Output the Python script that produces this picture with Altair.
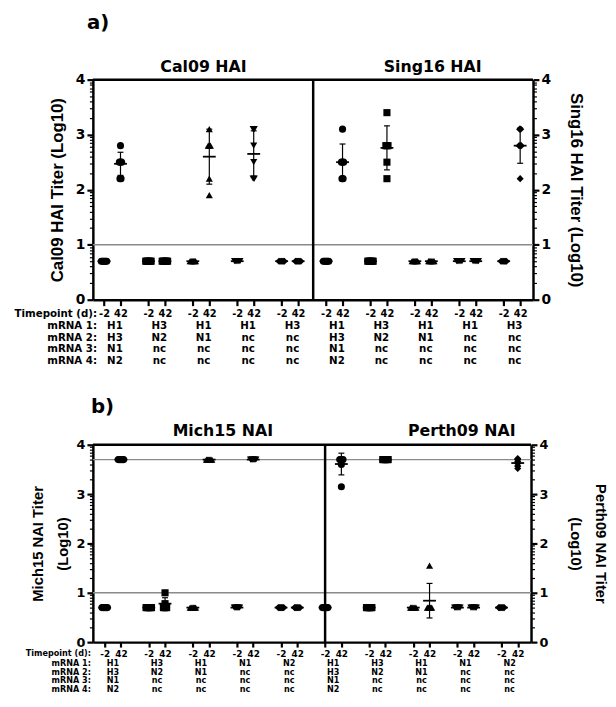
import numpy as np
import pandas as pd
import altair as alt

FONT = "DejaVu Sans"
TITLE_FONT = "Liberation Sans"

SHAPES = ["circle", "square", "triangle-up", "triangle-down", "diamond"]
ROW_LABELS = ["mRNA 1:", "mRNA 2:", "mRNA 3:", "mRNA 4:"]

A_MRNA = [
    ["H1", "H3", "H1", "H1", "H3", "H1", "H3", "H1", "H1", "H3"],
    ["H3", "N2", "N1", "nc", "nc", "H3", "N2", "N1", "nc", "nc"],
    ["N1", "nc", "nc", "nc", "nc", "N1", "nc", "nc", "nc", "nc"],
    ["N2", "nc", "nc", "nc", "nc", "N2", "nc", "nc", "nc", "nc"],
]
B_MRNA = [
    ["H1", "H3", "H1", "N1", "N2", "H1", "H3", "H1", "N1", "N2"],
    ["H3", "N2", "N1", "nc", "nc", "H3", "N2", "N1", "nc", "nc"],
    ["N1", "nc", "nc", "nc", "nc", "N1", "nc", "nc", "nc", "nc"],
    ["N2", "nc", "nc", "nc", "nc", "N2", "nc", "nc", "nc", "nc"],
]

# ---- panel a: HAI titers (log10), day -2 and day 42, groups 1-5 Cal09, 6-10 Sing16
A_PRE = [
    [0.7, 0.7, 0.7, 0.7, 0.7, 0.7], [0.7, 0.7, 0.7, 0.7, 0.7, 0.7],
    [0.7, 0.7, 0.7, 0.7, 0.7, 0.7], [0.7, 0.7, 0.7, 0.7, 0.7, 0.7],
    [0.7, 0.7, 0.7, 0.7, 0.7, 0.7], [0.7, 0.7, 0.7, 0.7, 0.7, 0.7],
    [0.7, 0.7, 0.7, 0.7, 0.7, 0.7], [0.7, 0.7, 0.7, 0.7, 0.7, 0.7],
    [0.7, 0.7, 0.7, 0.7, 0.7, 0.7], [0.7, 0.7, 0.7, 0.7, 0.7, 0.7],
]
A_POST = [
    [2.8, 2.5, 2.5, 2.5, 2.2, 2.2], [0.7, 0.7, 0.7, 0.7, 0.7, 0.7],
    [3.1, 2.8, 2.8, 2.8, 2.2, 1.9], [3.1, 3.1, 2.8, 2.5, 2.2, 2.2],
    [0.7, 0.7, 0.7, 0.7, 0.7, 0.7], [3.1, 2.5, 2.5, 2.5, 2.2, 2.2],
    [3.4, 2.8, 2.8, 2.8, 2.5, 2.2], [0.7, 0.7, 0.7, 0.7, 0.7, 0.7],
    [0.7, 0.7, 0.7, 0.7, 0.7, 0.7], [3.1, 3.1, 2.8, 2.8, 2.8, 2.2],
]
A_PRE_MEAN = [0.7, 0.7, 0.7, 0.7, 0.7, 0.7, 0.7, 0.7, 0.7, 0.7]
A_PRE_SD = [0, 0, 0, 0, 0, 0, 0, 0, 0, 0]
A_POST_MEAN = [2.47, 0.7, 2.6, 2.65, 0.7, 2.5, 2.76, 0.7, 0.7, 2.8]
A_POST_SD = [0.21, 0, 0.5, 0.42, 0, 0.33, 0.4, 0, 0, 0.32]
A_REF = [1.0]

# ---- panel b: NAI titers (log10), groups 1-5 Mich15, 6-10 Perth09
B_PRE = [
    [0.7, 0.7, 0.7, 0.7, 0.7, 0.7], [0.7, 0.7, 0.7, 0.7, 0.7, 0.7],
    [0.7, 0.7, 0.7, 0.7, 0.7, 0.7], [0.7, 0.7, 0.7, 0.7, 0.7, 0.7],
    [0.7, 0.7, 0.7, 0.7, 0.7, 0.7], [0.7, 0.7, 0.7, 0.7, 0.7, 0.7],
    [0.7, 0.7, 0.7, 0.7, 0.7, 0.7], [0.7, 0.7, 0.7, 0.7, 0.7, 0.7],
    [0.7, 0.7, 0.7, 0.7, 0.7, 0.7], [0.7, 0.7, 0.7, 0.7, 0.7, 0.7],
]
B_POST = [
    [3.7, 3.7, 3.7, 3.7, 3.7, 3.7], [1.0, 0.78, 0.7, 0.7, 0.7, 0.7],
    [3.7, 3.7, 3.7, 3.7, 3.7, 3.7], [3.7, 3.7, 3.7, 3.7, 3.7, 3.7],
    [0.7, 0.7, 0.7, 0.7, 0.7, 0.7], [3.7, 3.7, 3.7, 3.7, 3.6, 3.15],
    [3.7, 3.7, 3.7, 3.7, 3.7, 3.7], [1.55, 0.7, 0.7, 0.7, 0.7, 0.7],
    [0.7, 0.7, 0.7, 0.7, 0.7, 0.7], [3.72, 3.7, 3.66, 3.62, 3.57, 3.52],
]
B_PRE_MEAN = [0.7, 0.7, 0.7, 0.7, 0.7, 0.7, 0.7, 0.7, 0.7, 0.7]
B_PRE_SD = [0, 0, 0, 0, 0, 0, 0, 0, 0, 0]
B_POST_MEAN = [3.7, 0.78, 3.7, 3.7, 0.7, 3.61, 3.7, 0.84, 0.7, 3.63]
B_POST_SD = [0, 0.12, 0, 0, 0, 0.22, 0, 0.35, 0, 0.07]
B_REF = [1.0, 3.7]


def make_panel(cfg):
    W, H = cfg["W"], cfg["H"]
    xmin, xmax = cfg["xdom"]
    ppu = W / (xmax - xmin)
    tp_off = [0.0, cfg["off42"]]
    xs = alt.Scale(domain=[xmin, xmax], nice=False, zero=False)
    ys = alt.Scale(domain=[0, 4], nice=False, zero=False)

    ticks_x = sorted(float(g + o) for g in range(10) for o in tp_off)
    xax = alt.Axis(
        values=ticks_x, title=None, grid=False,
        labelExpr="abs(datum.value - round(datum.value)) < 0.05 ? '-2' : '42'",
        labelOverlap=False, labelFlush=False, labelAngle=0,
        labelFont=FONT, labelFontSize=cfg["tick_fs"], labelFontWeight="bold",
        labelColor="black", labelPadding=cfg["xlabpad"],
        tickSize=cfg["xtick"], tickWidth=2.2, tickColor="black",
        domain=True, domainColor="black", domainWidth=2.5,
    )
    is_major = "abs(datum.value - round(datum.value)) < 0.001"
    yvals = [0.0, 1.0, 2.0, 3.0, 4.0] + [float(i + np.log10(k)) for i in range(4) for k in range(2, 10)]

    def yaxis(orient, title, tpad, tsize):
        return alt.Axis(
            orient=orient, values=yvals, grid=False,
            labelExpr=f"{is_major} ? format(datum.value, 'd') : ''",
            labelOverlap=False, labelFont=FONT, labelFontSize=cfg["ylab_fs"], labelFontWeight="bold",
            labelColor="black", labelPadding=2,
            tickColor="black",
            tickSize={"condition": {"test": is_major, "value": 6}, "value": 3.5},
            tickWidth={"condition": {"test": is_major, "value": 2.2}, "value": 1.2},
            domainColor="black", domainWidth=2.5,
            title=title, titleFont=TITLE_FONT, titleFontSize=tsize, titleFontWeight="bold",
            titleColor="black", titlePadding=tpad, titleLineHeight=cfg["title_lh"],
        )

    yl = yaxis("left", cfg["ltitle"], cfg["ltpad"], cfg["tfs"])
    yr = yaxis("right", cfg["rtitle"], cfg["rtpad"], cfg["tfs"])

    # points with small horizontal spread of identical values
    step = 1.1 / ppu
    pts, summ = [], []
    for g in range(10):
        cells = [(cfg["pre"][g], cfg["pre_mean"][g], cfg["pre_sd"][g]),
                 (cfg["post"][g], cfg["post_mean"][g], cfg["post_sd"][g])]
        for t, (vals, mean, sd) in enumerate(cells):
            base = g + tp_off[t]
            counts = {}
            for v in vals:
                counts[v] = counts.get(v, 0) + 1
            seen = {}
            for v in vals:
                k = seen.get(v, 0)
                seen[v] = k + 1
                pts.append(dict(x=base + (k - (counts[v] - 1) / 2) * step, v=v, shape=SHAPES[g % 5]))
            summ.append(dict(xc=base, mean=mean, sd=sd, lo=mean - sd, hi=mean + sd,
                             ml=base - 6.5 / ppu, mr=base + 6.5 / ppu,
                             cl=base - 3 / ppu, cr=base + 3 / ppu))
    pts = pd.DataFrame(pts)
    summ = pd.DataFrame(summ)
    bars = summ[summ["sd"] > 0]

    X = lambda f: alt.X(f, scale=xs, axis=xax)
    Y = lambda f: alt.Y(f, scale=ys, axis=yl)

    layers = []
    layers.append(alt.Chart(pts).mark_point(filled=True, color="black", opacity=1, size=52, strokeWidth=0)
                  .encode(x=X("x:Q"), y=Y("v:Q"), shape=alt.Shape("shape:N", scale=None)))
    layers.append(alt.Chart(bars).mark_rule(color="black", strokeWidth=1.2)
                  .encode(x=X("xc:Q"), y=Y("lo:Q"), y2="hi:Q"))
    layers.append(alt.Chart(bars).mark_rule(color="black", strokeWidth=1.2)
                  .encode(x=X("cl:Q"), x2="cr:Q", y=Y("hi:Q")))
    layers.append(alt.Chart(bars).mark_rule(color="black", strokeWidth=1.2)
                  .encode(x=X("cl:Q"), x2="cr:Q", y=Y("lo:Q")))
    layers.append(alt.Chart(summ).mark_rule(color="black", strokeWidth=1.8)
                  .encode(x=X("ml:Q"), x2="mr:Q", y=Y("mean:Q")))
    # divider between the two antigens
    layers.append(alt.Chart(pd.DataFrame({"d": [cfg["divider"]]})).mark_rule(color="black", strokeWidth=2.5)
                  .encode(x=X("d:Q"), y=alt.value(0), y2=alt.value(H)))
    # top frame line
    layers.append(alt.Chart(pd.DataFrame({"a": [0]})).mark_rule(color="black", strokeWidth=2.5)
                  .encode(x=alt.value(0), x2=alt.value(W), y=alt.value(0)))
    # panel letter
    layers.append(alt.Chart(pd.DataFrame({"t": [cfg["letter"]]}))
                  .mark_text(font=FONT, fontSize=20, fontWeight="bold", color="black",
                             align="left", baseline="middle")
                  .encode(x=alt.value(cfg["letter_x"]), y=alt.value(cfg["letter_y"]), text="t:N"))
    # panel titles
    layers.append(alt.Chart(pd.DataFrame({"t": cfg["titles"], "x": cfg["title_x"]}))
                  .mark_text(font=FONT, fontSize=16, fontWeight="bold", color="black", baseline="middle")
                  .encode(x=X("x:Q"), y=alt.value(cfg["title_y"]), text="t:N"))
    # row labels under the axis
    gl = pd.DataFrame({"c": [g + tp_off[1] / 2 + cfg["lab_dx"] for g in range(10)]})
    for r in range(4):
        d = gl.assign(m=cfg["mrna"][r])
        layers.append(alt.Chart(d).mark_text(font=FONT, fontSize=cfg["row_fs"], fontWeight="bold",
                                             color="black", baseline="middle")
                      .encode(x=X("c:Q"), y=alt.value(H + cfg["row_y"][r]), text="m:N"))
    left_labels = ["Timepoint (d):"] + ROW_LABELS
    left_y = [cfg["tp_y"]] + cfg["row_y"]
    for lab, dy in zip(left_labels, left_y):
        layers.append(alt.Chart(pd.DataFrame({"t": [lab]}))
                      .mark_text(font=FONT, fontSize=cfg["row_fs"], fontWeight="bold", color="black",
                                 align="right", baseline="middle")
                      .encode(x=alt.value(cfg["label_x"]), y=alt.value(H + dy), text="t:N"))

    main = alt.layer(*layers)
    refs = alt.Chart(pd.DataFrame({"r": cfg["refs"]})).mark_rule(color="#8a8a8a", strokeWidth=1.4).encode(
        y=alt.Y("r:Q", scale=ys, axis=yr))
    return alt.layer(refs, main).resolve_scale(y="independent").properties(width=W, height=H)


panel_a = make_panel(dict(
    W=446, H=223, xdom=[-0.251, 9.66], off42=0.371, divider=4.71,
    pre=A_PRE, post=A_POST, pre_mean=A_PRE_MEAN, pre_sd=A_PRE_SD,
    post_mean=A_POST_MEAN, post_sd=A_POST_SD, refs=A_REF, mrna=A_MRNA,
    titles=["Cal09 HAI", "Sing16 HAI"], title_x=[2.24, 7.4], title_y=-13,
    ltitle="Cal09 HAI Titer (Log10)", rtitle="Sing16  HAI Titer (Log10)",
    ltpad=9, rtpad=16, tfs=17, title_lh=24, ylab_fs=14,
    tick_fs=10, xtick=6, xlabpad=3, row_fs=10.4, lab_dx=0.06,
    row_y=[26.8, 38.6, 50.4, 62.2], tp_y=14.7, label_x=4.3,
    letter="a)", letter_x=-6, letter_y=-57,
))

panel_b = make_panel(dict(
    W=444, H=200, xdom=[-0.268, 9.671], off42=0.369, divider=5.0,
    pre=B_PRE, post=B_POST, pre_mean=B_PRE_MEAN, pre_sd=B_PRE_SD,
    post_mean=B_POST_MEAN, post_sd=B_POST_SD, refs=B_REF, mrna=B_MRNA,
    titles=["Mich15 NAI", "Perth09 NAI"], title_x=[2.68, 8.1], title_y=-14,
    ltitle=["Mich15 NAI Titer", "(Log10)"], rtitle=["Perth09 NAI Titer", "(Log10)"],
    ltpad=6, rtpad=20, tfs=15, title_lh=25, ylab_fs=13,
    tick_fs=9, xtick=5, xlabpad=2.5, row_fs=8.2, lab_dx=0.0,
    row_y=[21.8, 30.8, 39.8, 48.8], tp_y=12, label_x=-2,
    letter="b)", letter_x=-2, letter_y=-38.7,
))

chart = alt.concat(panel_a, panel_b, columns=1, align="none", spacing=30).properties(
    padding={"left": 6, "top": 1, "right": 0, "bottom": 0}
).configure_view(stroke=None)

chart.save("out.html", embed_options={"renderer": "svg", "actions": False})
